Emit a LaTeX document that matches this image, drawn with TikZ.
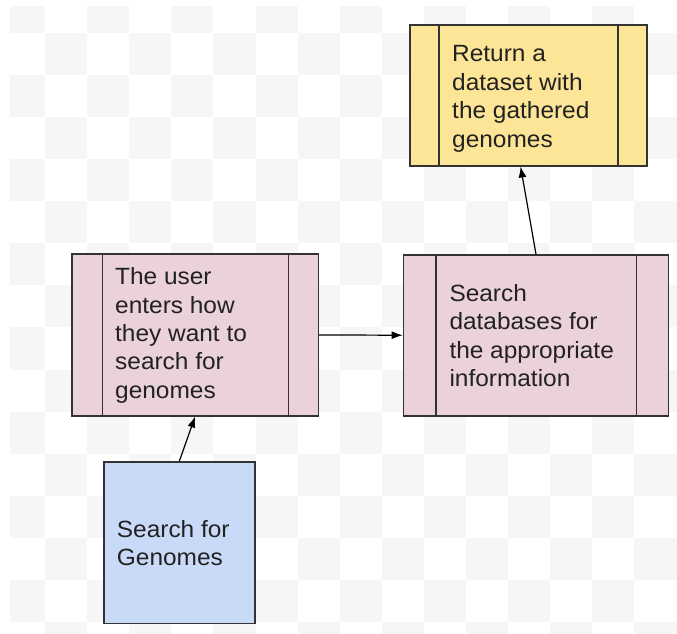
\documentclass[tikz,border=0pt]{standalone}
\usepackage{fontspec}
\setmainfont[FakeStretch=1.04]{Liberation Sans}
\usetikzlibrary{arrows.meta}
\definecolor{chk}{RGB}{246,246,246}
\definecolor{pinkc}{HTML}{EAD1DC}
\definecolor{bluec}{HTML}{C9DAF8}
\definecolor{yellc}{HTML}{FCE597}
\definecolor{edge}{HTML}{333333}
\definecolor{txt}{HTML}{222222}
\begin{document}
\begin{tikzpicture}[x=1pt,y=-1pt,
  box/.style={draw=edge,line width=1.5pt,rectangle,inner sep=0pt,anchor=north west},
  inner/.style={draw=edge,line width=1.4pt},
  label/.style={anchor=base west,inner sep=0pt,align=left,text=txt,
    font=\fontsize{23.5}{28.4}\selectfont},
  arr/.style={line width=1.2pt,black,-{Latex[length=11pt,width=8pt]}}]
\useasboundingbox (0,0) rectangle (677,634);
\fill[white] (0,0) rectangle (677,634);
\begin{scope}
\clip (10,7) rectangle (677,634);
\foreach \i in {0,...,15}{
  \foreach \j in {0,...,15}{
    \ifodd\numexpr\i+\j\relax\else
      \fill[chk] ({45+42.1*(\i-1)},{33+42.07*(\j-1)}) rectangle ++(42.1,42.07);
    \fi
  }
}
\end{scope}
% boxes
\node[box,fill=yellc,minimum width=237.1pt,minimum height=140.7pt] (y1) at (409.3,24.3) {};
\node[box,fill=pinkc,minimum width=246.7pt,minimum height=161.7pt] (p1) at (71,253.3) {};
\node[box,fill=pinkc,minimum width=265pt,minimum height=161pt] (p2) at (402.7,254) {};
\node[box,fill=bluec,minimum width=150.7pt,minimum height=161.7pt] (b) at (103.3,461) {};
% inner bars
\draw[inner] ([xshift=29.8pt]y1.north west) -- ([xshift=29.8pt]y1.south west);
\draw[inner] ([xshift=-29.8pt]y1.north east) -- ([xshift=-29.8pt]y1.south east);
\draw[inner] ([xshift=31.3pt]p1.north west) -- ([xshift=31.3pt]p1.south west);
\draw[inner] ([xshift=-30.7pt]p1.north east) -- ([xshift=-30.7pt]p1.south east);
\draw[inner] ([xshift=33.3pt]p2.north west) -- ([xshift=33.3pt]p2.south west);
\draw[inner] ([xshift=-32.7pt]p2.north east) -- ([xshift=-32.7pt]p2.south east);
% texts (base anchor = baseline of last line)
\node[label] (ty1) at (452,147) {Return a\\dataset with\\the gathered\\genomes};
\node[label] (tp1) at (115,398.3) {The user\\enters how\\they want to\\search for\\genomes};
\node[label] (tp2) at (449.3,386.7) {Search\\databases for\\the appropriate\\information};
\node[label] (tb) at (116.7,565.7) {Search for\\Genomes};
% connectors
\draw[arr] (b.north) -- (p1.south);
\draw[arr] (p1.east) -- (p2.west);
\draw[arr] (p2.north) -- ([xshift=-8pt]y1.south);
\end{tikzpicture}
\end{document}
